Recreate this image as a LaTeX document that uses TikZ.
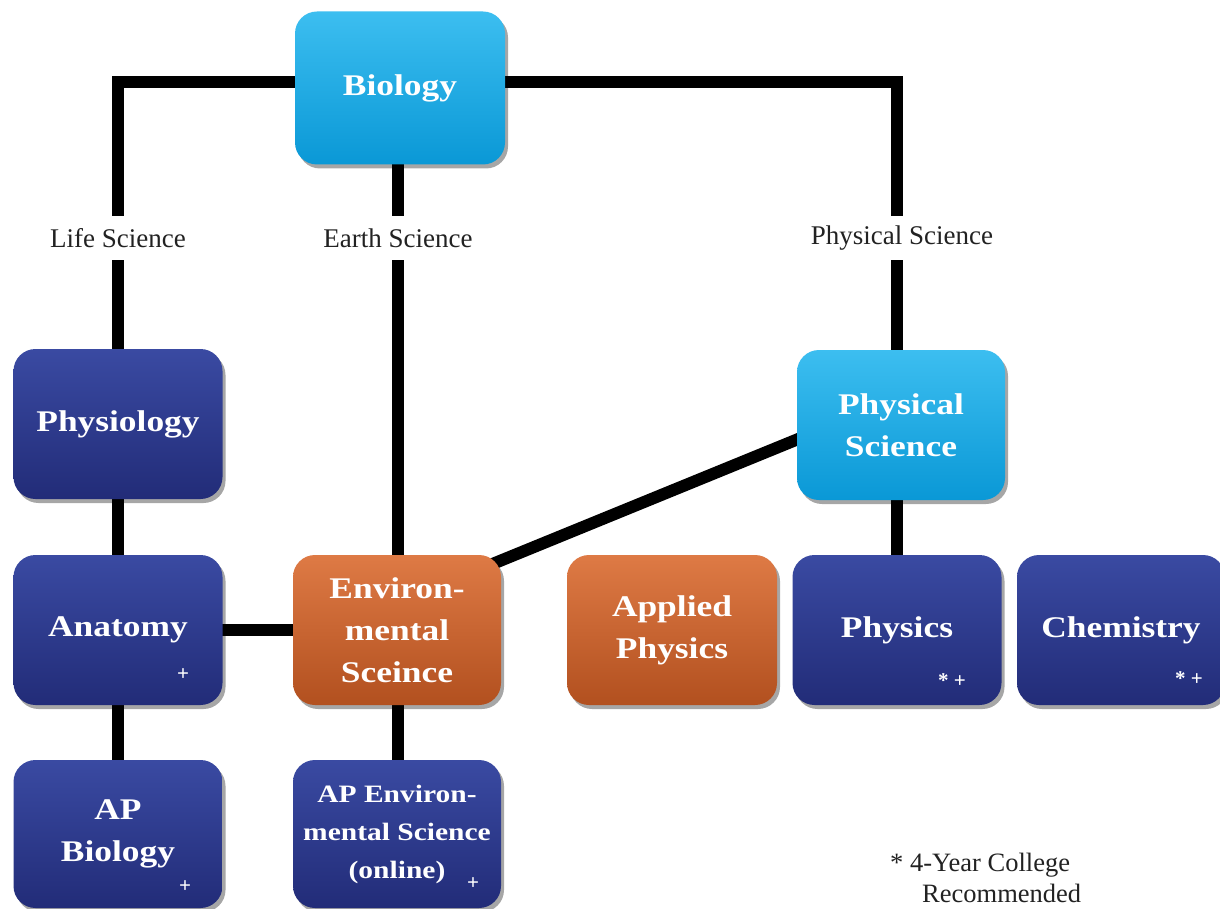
\documentclass[tikz,border=0pt]{standalone}
\usepackage{fontspec}
\setmainfont{Liberation Serif}
\newfontfamily\boxfont{Liberation Serif}[FakeStretch=1.18]
\usetikzlibrary{shadows}
\pgfdeclarelayer{bottom}
\pgfdeclarelayer{background}
\pgfsetlayers{bottom,background,main}
\definecolor{dbtop}{HTML}{3A4AA2}
\definecolor{dbmid}{HTML}{2F3D95}
\definecolor{dbbot}{HTML}{222C78}
\definecolor{lbtop}{HTML}{3CBEF0}
\definecolor{lbmid}{HTML}{0FADEA}
\definecolor{lbbot}{HTML}{0A98D6}
\definecolor{ortop}{HTML}{DE7A45}
\definecolor{ormid}{HTML}{D2622A}
\definecolor{orbot}{HTML}{B2501F}
\definecolor{inkc}{HTML}{222222}
\begin{document}
\begin{tikzpicture}[x=1pt,y=-1pt,
  box/.style={rounded corners=22pt, inner sep=0pt, minimum width=209pt,
    minimum height=150pt, align=center, text=white,
    font=\boxfont\bfseries\fontsize{30}{42}\selectfont,
    drop shadow={shadow xshift=3pt, shadow yshift=-4pt, opacity=0.35, fill=black}},
  darkbox/.style={box, top color=dbtop, middle color=dbmid, bottom color=dbbot},
  lightbox/.style={box, top color=lbtop, middle color=lbmid, bottom color=lbbot},
  orangebox/.style={box, top color=ortop, middle color=ormid, bottom color=orbot},
  smallmark/.style={text=white, font=\bfseries\fontsize{21}{22}\selectfont, inner sep=0pt},
  branch/.style={text=inkc, font=\fontsize{27}{30}\selectfont, minimum height=44pt, inner sep=0pt},
  link/.style={line width=12pt, black}
]
\useasboundingbox (0,0) rectangle (1220,909);
\begin{pgfonlayer}{bottom}
\fill[white] (0,0) rectangle (1220,909);
\end{pgfonlayer}

% boxes
\node[lightbox, minimum width=210pt, minimum height=153pt] (bio) at (400,88) {Biology};
\node[darkbox] (physio) at (118,424) {Physiology};
\node[darkbox] (anat) at (118,630) {Anatomy};
\node[darkbox, minimum height=148pt] (apbio) at (118,834) {AP\\Biology};
\node[orangebox, minimum width=208pt] (env) at (397,630) {Environ-\\mental\\Sceince};
\node[darkbox, minimum width=208pt, minimum height=148pt,
      font=\boxfont\bfseries\fontsize{25}{38}\selectfont] (apenv) at (397,834) {AP Environ-\\mental Science\\(online)};
\node[orangebox, minimum width=210pt] (applied) at (672,630) {Applied\\Physics};
\node[lightbox, minimum width=208pt] (physsci) at (901,425) {Physical\\Science};
\node[darkbox] (physics) at (897,630) {Physics};
\node[darkbox, minimum width=208pt] (chem) at (1121,630) {Chemistry};

% small marks
\node[smallmark] (m1) at (183,675) {+};
\node[smallmark] (m2) at (185,887) {+};
\node[smallmark] (m3) at (473,884) {+};
\node[smallmark] (m4) at (952,681) {* +};
\node[smallmark] (m5) at (1189,679) {* +};

% branch labels
\node[branch] (life) at (118,238) {Life Science};
\node[branch] (earth) at (398,238) {Earth Science};
\node[branch] (physlbl) at (902,238) {Physical Science};

\coordinate (lc) at (118,82);
\coordinate (rc) at (897,82);

% footnote
\node[text=inkc, font=\fontsize{26.5}{31}\selectfont, align=left, anchor=west, inner sep=0pt] (note)
  at (890,878) {* 4-Year College\\\hspace*{32pt}Recommended};

\begin{pgfonlayer}{background}
\draw[link] (bio.center |- lc) -- (lc) -- (life.north -| lc);
\draw[link] (life.south -| lc) -- (physio.center);
\draw[link] (physio.center) -- (anat.center);
\draw[link] (anat.center) -- (apbio.center);
\draw[link] (bio.center -| earth) -- (earth.north);
\draw[link] (earth.south) -- (env.center -| earth);
\draw[link] (env.center -| earth) -- (apenv.center -| earth);
\draw[link] (bio.center |- rc) -- (rc) -- (physlbl.north -| rc);
\draw[link] (physlbl.south -| rc) -- (physsci.center -| rc);
\draw[link] (physsci.center -| rc) -- (physics.center -| rc);
\draw[link] (anat.center) -- (env.center);
\draw[link] ([yshift=27pt]env.center) -- ([yshift=28pt]physsci.center);
\end{pgfonlayer}
\end{tikzpicture}
\end{document}
